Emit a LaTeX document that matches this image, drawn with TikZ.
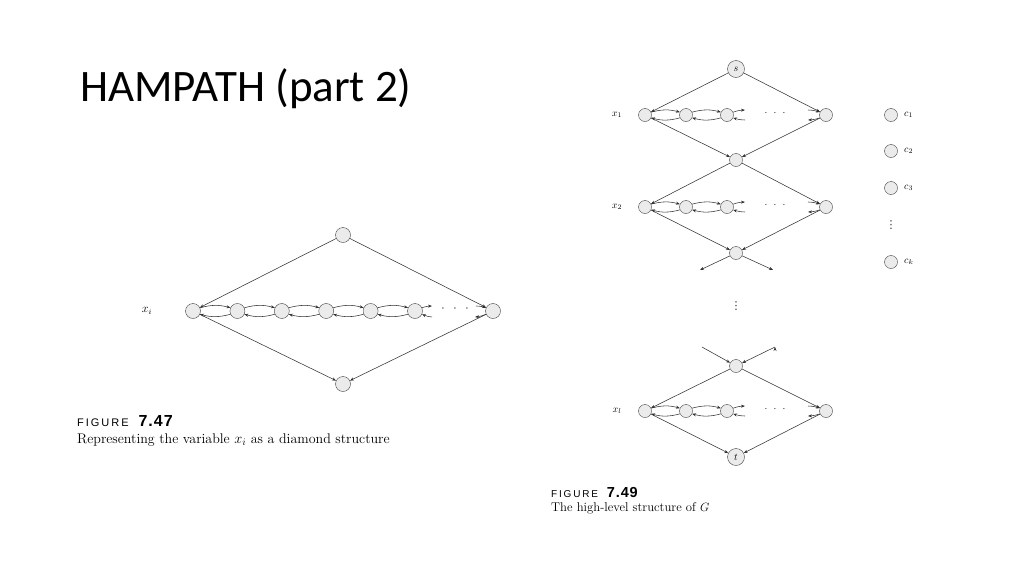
\documentclass[tikz,border=0pt]{standalone}
\usepackage{fontspec}
\newfontfamily\titlefont{Carlito}
\newfontfamily\capfont{Liberation Sans}
\newfontfamily\symfont{DejaVu Sans}
\usetikzlibrary{arrows.meta,positioning}

\begin{document}
\begin{tikzpicture}[x=1pt,y=-1pt,
    vertex/.style={circle,draw=black!75,fill=black!8,inner sep=0pt,minimum size=15pt},
    smallvertex/.style={vertex,minimum size=13pt},
    endvertex/.style={vertex,minimum size=17pt,font=\fontsize{10}{12}\selectfont},
    link/.style={draw=black!80,line width=0.55pt,-{Stealth[length=4pt,width=3pt]}},
    vdotsnode/.style={font=\symfont\fontsize{11}{12}\selectfont,inner sep=0pt,text=black!80},
    caphead/.style={anchor=base west,inner sep=0pt},
    captext/.style={anchor=base west,inner sep=0pt}
    ]
    \useasboundingbox (0,0) rectangle (1024,576);
    
    % title
    \node[anchor=base west,inner sep=0pt] (title) at (80,101)
    {\titlefont\fontsize{45}{50}\selectfont HAMPATH (part 2)};
    
    % ---- figure 7.47: one diamond
    \node[vertex] (top) at (343,235) {};
    \node[vertex] (bot) at (343,384) {};
    \node[vertex] (L) at (193,311) {};
    \node[vertex] (R) at (493,311) {};
    \foreach \i in {1,...,5} {
        \node[vertex] (c\i) at ({193+44.4*\i},311) {};
    }
    \node[font=\fontsize{12}{14}\selectfont] (xi) at (147,311) {$x_i$};
    
    \foreach \a/\b in {L/c1,c1/c2,c2/c3,c3/c4,c4/c5} {
        \draw[link] (\a.25) to[bend left=15] (\b.155);
        \draw[link] (\b.-155) to[bend left=15] (\a.-25);
    }
    % loose ends round the dots
    \coordinate (c5out) at (432,306);
    \coordinate (c5in) at (432,317);
    \coordinate (Rin) at (476,306);
    \coordinate (Rout) at (475,317);
    \draw[link] (c5.25) to[bend left=8] (c5out);
    \draw[link] (c5in) to[bend left=8] (c5.-25);
    \draw[link] (Rin) to[bend left=8] (R.155);
    \draw[link] (R.-155) to[bend left=8] (Rout);
    \node[font=\fontsize{12}{14}\selectfont] (dots) at (455,309) {$\cdot\hspace{6pt}\cdot\hspace{6pt}\cdot$};
    
    \path[link]
    (top) edge (L)
    (top) edge (R)
    (L) edge (bot)
    (R) edge (bot);
    
    \node[caphead] (fig47) at (77,426)
    {\capfont\fontsize{11}{12}\selectfont{\addfontfeature{LetterSpace=18}FIGURE}\hspace{10pt}\fontsize{16}{17}\selectfont\bfseries\addfontfeature{LetterSpace=6}7.47};
    \node[captext] (cap47) at (77,443)
    {\fontsize{14}{16}\selectfont Representing the variable $x_i$ as a diamond structure};
    
    % ---- figure 7.49: the chain of diamonds
    \node[endvertex] (s) at (736,69) {$s$};
    \node[smallvertex] (m1) at (736,160) {};
    \node[smallvertex] (m2) at (736,253) {};
    \node[smallvertex] (m3) at (736,366) {};
    \node[endvertex] (t) at (736,457) {$t$};
    
    \foreach \r/\y/\lab in {1/115/x_1,2/207/x_2,l/411/x_l} {
        \node[smallvertex] (x\r L) at (645,\y) {};
        \node[smallvertex] (x\r a) at (686,\y) {};
        \node[smallvertex] (x\r b) at (727,\y) {};
        \node[smallvertex] (x\r R) at (826,\y) {};
        \node[font=\fontsize{10}{12}\selectfont] (lab\r) at (617,\y) {$\lab$};
        \node[font=\fontsize{10}{12}\selectfont] (dots\r) at (775,\y-2) {$\cdot\hspace{4pt}\cdot\hspace{4pt}\cdot$};
        \draw[link] (x\r L.25) to[bend left=15] (x\r a.155);
        \draw[link] (x\r a.-155) to[bend left=15] (x\r L.-25);
        \draw[link] (x\r a.25) to[bend left=15] (x\r b.155);
        \draw[link] (x\r b.-155) to[bend left=15] (x\r a.-25);
        \coordinate (x\r bout) at (745,\y-5);
        \coordinate (x\r bin) at (745,\y+5);
        \coordinate (x\r Rin) at (808,\y-5);
        \coordinate (x\r Rout) at (808,\y+5);
        \draw[link] (x\r b.25) to[bend left=8] (x\r bout);
        \draw[link] (x\r bin) to[bend left=8] (x\r b.-25);
        \draw[link] (x\r Rin) to[bend left=8] (x\r R.155);
        \draw[link] (x\r R.-155) to[bend left=8] (x\r Rout);
    }
    
    \coordinate (m2l) at (700,270);
    \coordinate (m2r) at (773,270);
    \coordinate (m3l) at (702,347);
    \coordinate (m3r) at (775,347);
    \path[link]
    (s) edge (x1L) (s) edge (x1R)
    (x1L) edge (m1) (x1R) edge (m1)
    (m1) edge (x2L) (m1) edge (x2R)
    (x2L) edge (m2) (x2R) edge (m2)
    (m2) edge (m2l) (m2) edge (m2r)
    (m3l) edge (m3) (m3r) edge (m3)
    (m3) edge (xlL) (m3) edge (xlR)
    (xlL) edge (t) (xlR) edge (t);
    \node[vdotsnode] (vdots) at (736,306) {⋮};
    
    % clause nodes
    \foreach \j/\y/\lab in {1/115/c_1,2/151/c_2,3/188/c_3,k/262/c_k} {
        \node[smallvertex] (cl\j) at (891,\y) {};
        \node[font=\fontsize{10}{12}\selectfont,right=3pt of cl\j] (cllab\j) {$\lab$};
    }
    \node[vdotsnode] (cldots) at (891,225) {⋮};
    
    \node[caphead] (fig49) at (551,497)
    {\capfont\fontsize{10}{12}\selectfont{\addfontfeature{LetterSpace=18}FIGURE}\hspace{9pt}\fontsize{14.5}{15}\selectfont\bfseries\addfontfeature{LetterSpace=6}7.49};
    \node[captext] (cap49) at (551,511)
    {\fontsize{12.7}{14}\selectfont The high-level structure of $G$};
\end{tikzpicture}
\end{document}
